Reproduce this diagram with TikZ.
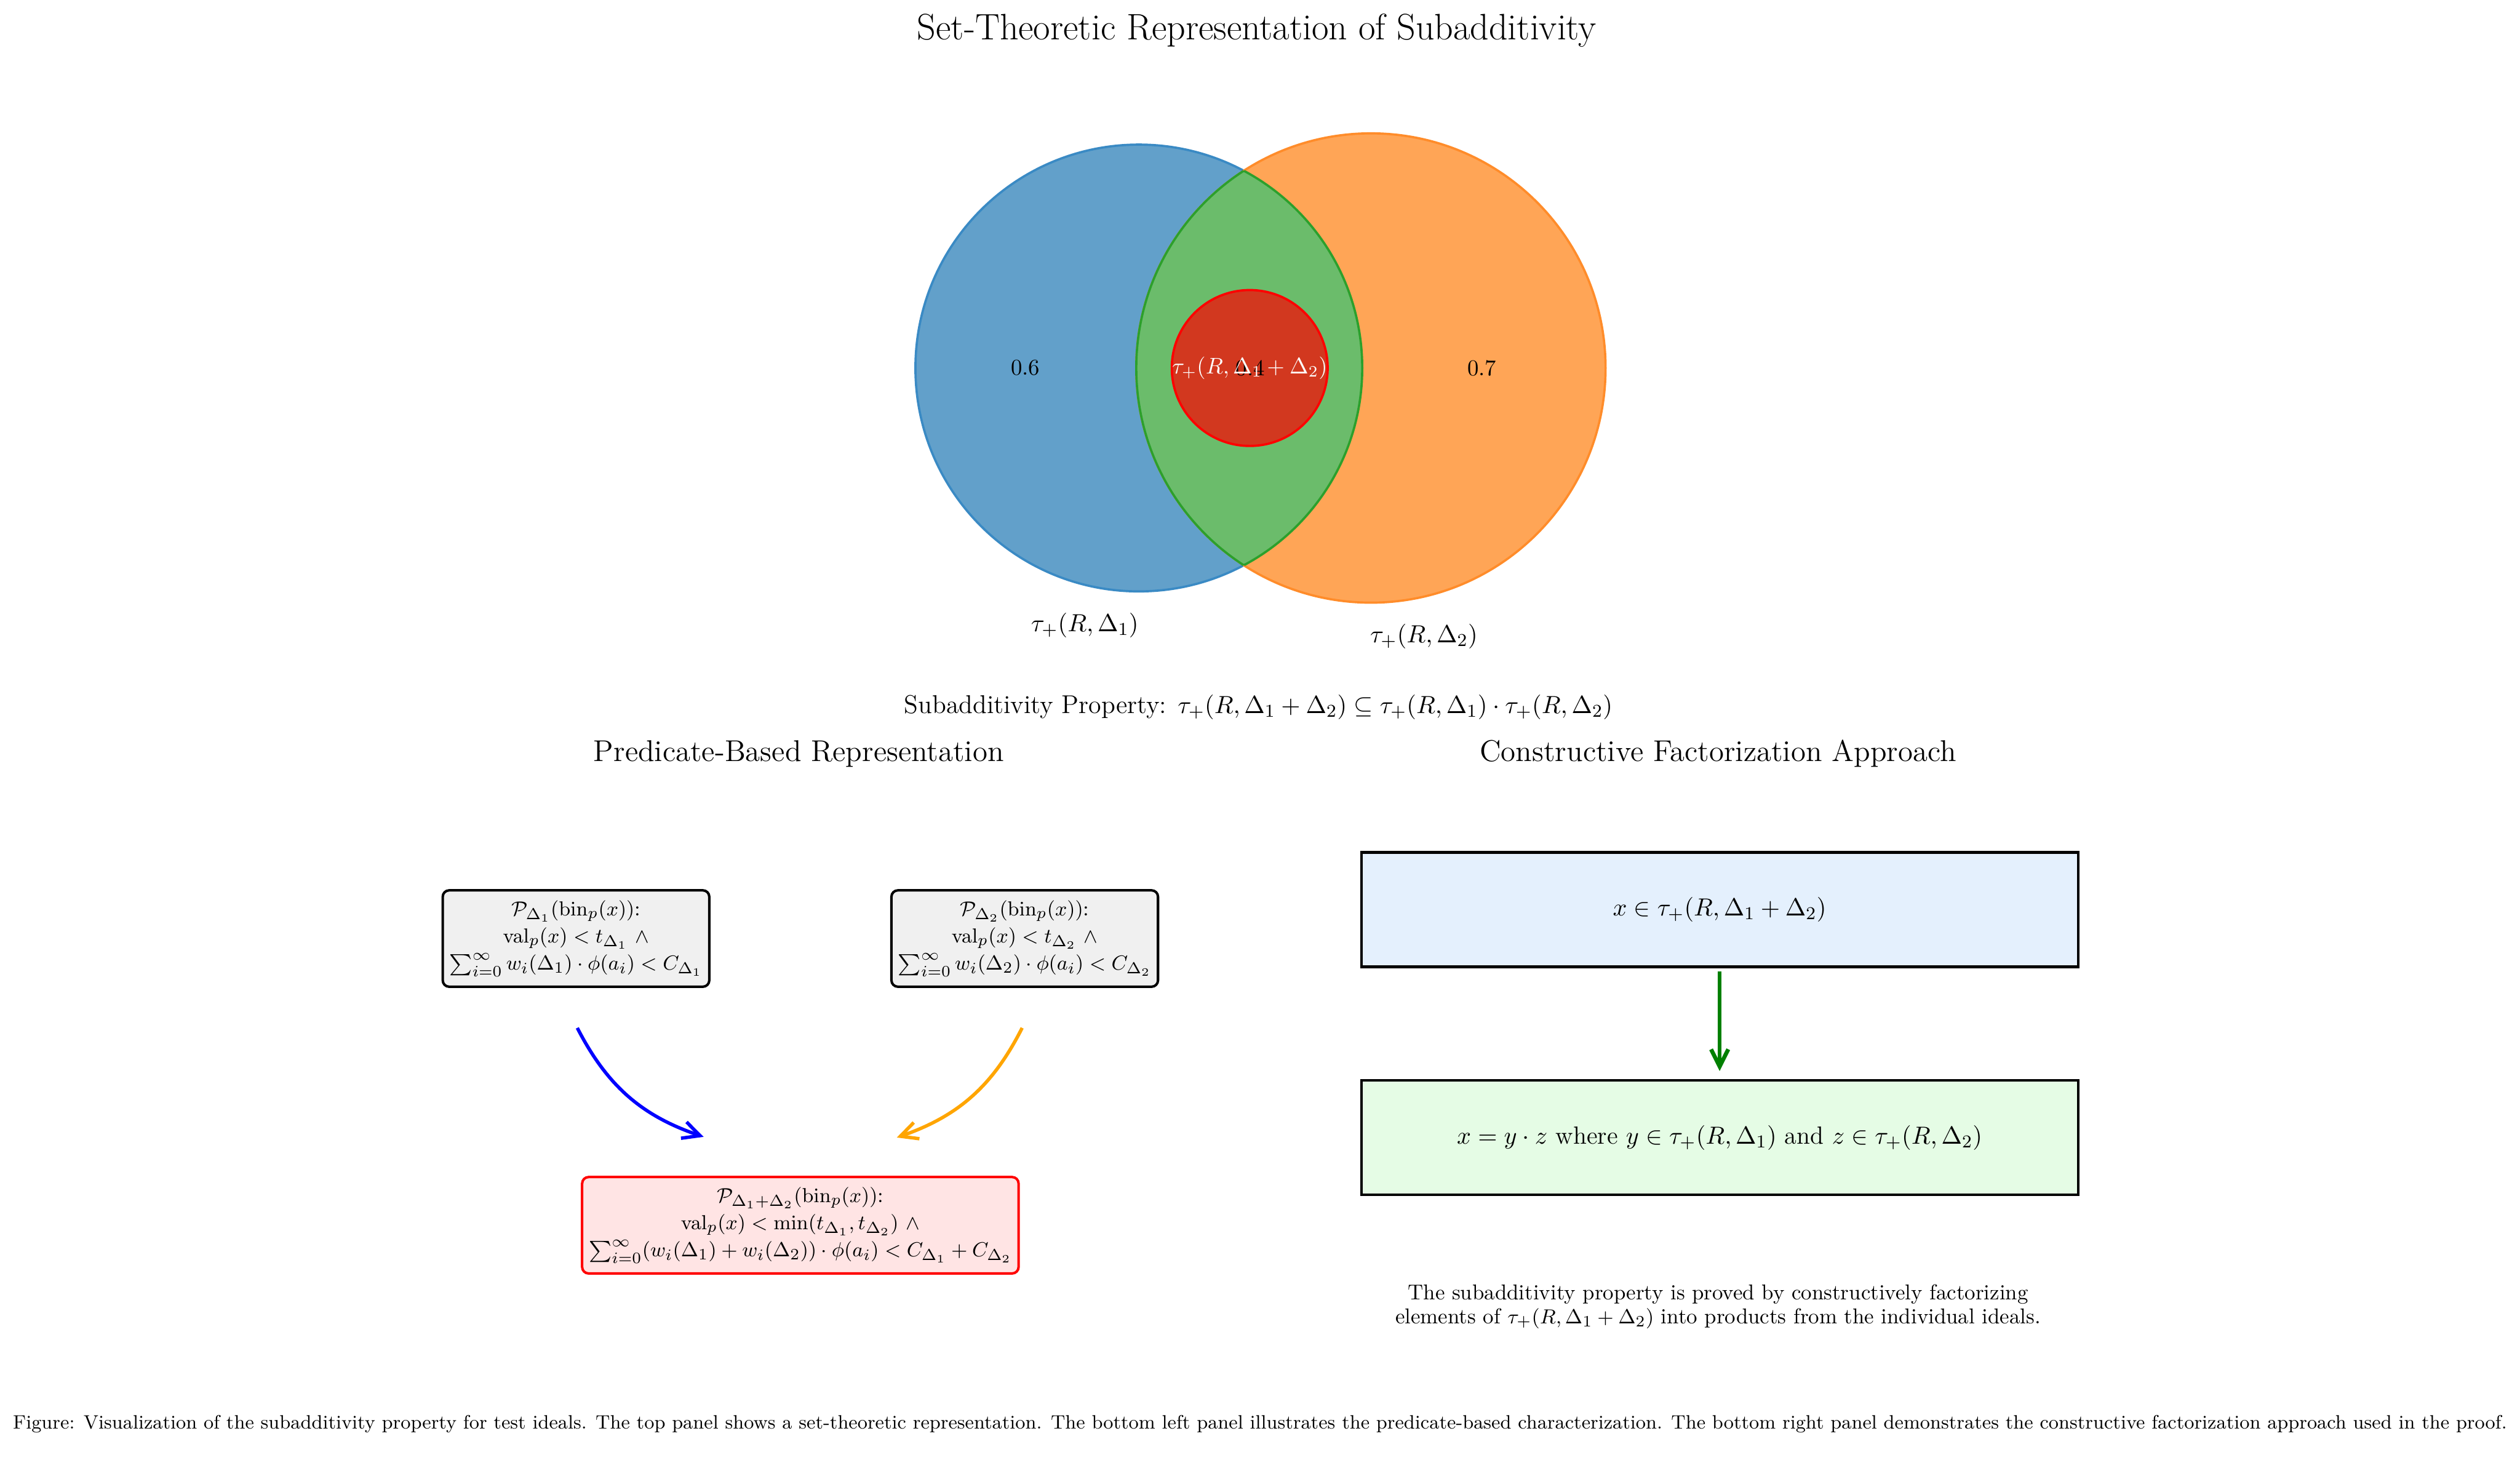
\documentclass[tikz,border=0pt]{standalone}
\usepackage{amsmath,amssymb}
\usetikzlibrary{arrows.meta}

\definecolor{setblue}{HTML}{62A0CA}
\definecolor{setblueedge}{HTML}{3A8AC4}
\definecolor{setorange}{HTML}{FFA556}
\definecolor{setorangeedge}{HTML}{FF8C2A}
\definecolor{setgreen}{HTML}{6BBC6B}
\definecolor{setgreenedge}{HTML}{2CA02C}
\definecolor{predgray}{HTML}{F0F0F0}
\definecolor{predrose}{HTML}{FFE4E4}
\definecolor{factblue}{HTML}{E4F0FD}
\definecolor{factgreen}{HTML}{E5FCE5}
\definecolor{arrgreen}{HTML}{008000}
\definecolor{arrorange}{HTML}{FFA500}

\begin{document}
\begin{tikzpicture}[
          title/.style={font=\fontsize{16.3}{19}\selectfont},
          subtitle/.style={font=\fontsize{13.3}{16}\selectfont},
          setlabel/.style={font=\fontsize{11.2}{14}\selectfont},
          pred/.style={draw, line width=1.1pt, rounded corners=0.1cm, fill=predgray,
            align=center, inner xsep=3pt, inner ysep=4.5pt, font=\fontsize{9.33}{12}\selectfont},
          fact/.style={draw, line width=1.1pt, minimum width=11.15cm, minimum height=1.78cm,
            font=\fontsize{11}{14}\selectfont},
          link/.style={line width=1.5pt, -{Straight Barb[length=7.6pt, width=7.6pt]}},
        ]
          \useasboundingbox (0,0) rectangle (39.2,22.875);

          \node[title] (ttl) at (19.55, 22.40) {Set-Theoretic Representation of Subadditivity};

          \coordinate (c1) at (17.715, 17.15);
          \coordinate (c2) at (21.325, 17.15);
          \coordinate (c3) at (19.44, 17.15);
          \fill[setblue] (c1) circle (3.475);
          \draw[setblueedge, line width=1pt] (c1) circle (3.475);
          \fill[setorange] (c2) circle (3.65);
          \draw[setorangeedge, line width=1pt] (c2) circle (3.65);
          \begin{scope}
            \clip (c1) circle (3.475);
            \fill[setgreen] (c2) circle (3.65);
            \draw[setgreenedge, line width=1pt] (c2) circle (3.65);
          \end{scope}
          \begin{scope}
            \clip (c2) circle (3.65);
            \draw[setgreenedge, line width=1pt] (c1) circle (3.475);
          \end{scope}
          \fill[red, opacity=0.7] (c3) circle (1.2125);
          \draw[red, line width=1pt] (c3) circle (1.2125);

          \node[font=\fontsize{10}{12}\selectfont] (n6) at (15.95, 17.15) {0.6};
          \node[font=\fontsize{10}{12}\selectfont] (n7) at (23.05, 17.15) {0.7};
          \node[font=\fontsize{10}{12}\selectfont] (n4) at (19.45, 17.15) {0.4};
          \node[white, font=\fontsize{10}{12}\selectfont] (sum) at (19.44, 17.15) {$\tau_+(R,\Delta_1+\Delta_2)$};
          \node[setlabel] (s1) at (16.875, 13.15) {$\tau_+(R,\Delta_1)$};
          \node[setlabel] (s2) at (22.15, 12.975) {$\tau_+(R,\Delta_2)$};

          \node[font=\fontsize{11.4}{14}\selectfont] (prop) at (19.575, 11.875)
            {Subadditivity Property: $\tau_+(R,\Delta_1+\Delta_2)\subseteq\tau_+(R,\Delta_1)\cdot\tau_+(R,\Delta_2)$};

          \node[subtitle] (left) at (12.425, 11.15) {Predicate-Based Representation};
          \node[subtitle] (right) at (26.725, 11.15) {Constructive Factorization Approach};

          \node[pred] (p1) at (8.96, 8.275)
            {$\mathcal{P}_{\Delta_1}(\mathrm{bin}_p(x))$:\\
             $\mathrm{val}_p(x) < t_{\Delta_1}\ \wedge$\\
             $\sum_{i=0}^{\infty} w_i(\Delta_1)\cdot\phi(a_i) < C_{\Delta_1}$};
          \node[pred] (p2) at (15.94, 8.275)
            {$\mathcal{P}_{\Delta_2}(\mathrm{bin}_p(x))$:\\
             $\mathrm{val}_p(x) < t_{\Delta_2}\ \wedge$\\
             $\sum_{i=0}^{\infty} w_i(\Delta_2)\cdot\phi(a_i) < C_{\Delta_2}$};
          \node[pred, draw=red, fill=predrose] (p12) at (12.45, 3.815)
            {$\mathcal{P}_{\Delta_1+\Delta_2}(\mathrm{bin}_p(x))$:\\
             $\mathrm{val}_p(x) < \min(t_{\Delta_1},t_{\Delta_2})\ \wedge$\\
             $\sum_{i=0}^{\infty}(w_i(\Delta_1)+w_i(\Delta_2))\cdot\phi(a_i) < C_{\Delta_1}+C_{\Delta_2}$};

          \coordinate (b0) at ( 8.98, 6.885);
          \coordinate (b1) at (10.945, 5.19);
          \coordinate (o0) at (15.90, 6.885);
          \coordinate (o1) at (13.95, 5.18);
          \draw[link, blue] (b0) to[bend right=22] (b1);
          \draw[link, arrorange] (o0) to[bend left=22] (o1);

          \node[fact, fill=factblue] (f1) at (26.75, 8.725) {$x\in\tau_+(R,\Delta_1+\Delta_2)$};
          \node[fact, fill=factgreen] (f2) at (26.75, 5.175)
            {$x = y\cdot z$ where $y\in\tau_+(R,\Delta_1)$ and $z\in\tau_+(R,\Delta_2)$};
          \draw[link, arrgreen, line width=1.8pt, shorten <=0.05cm, shorten >=0.13cm] (f1) -- (f2);

          \node[align=center, font=\fontsize{9.5}{10.5}\selectfont] (note) at (26.725, 2.55)
            {The subadditivity property is proved by constructively factorizing\\
             elements of $\tau_+(R,\Delta_1+\Delta_2)$ into products from the individual ideals.};

          \node[font=\fontsize{8.57}{10}\selectfont] (cap) at (19.6, 0.725)
            {Figure: Visualization of the subadditivity property for test ideals. The top panel shows a set-theoretic representation. The bottom left panel illustrates the predicate-based characterization. The bottom right panel demonstrates the constructive factorization approach used in the proof.};
        \end{tikzpicture}
\end{document}
